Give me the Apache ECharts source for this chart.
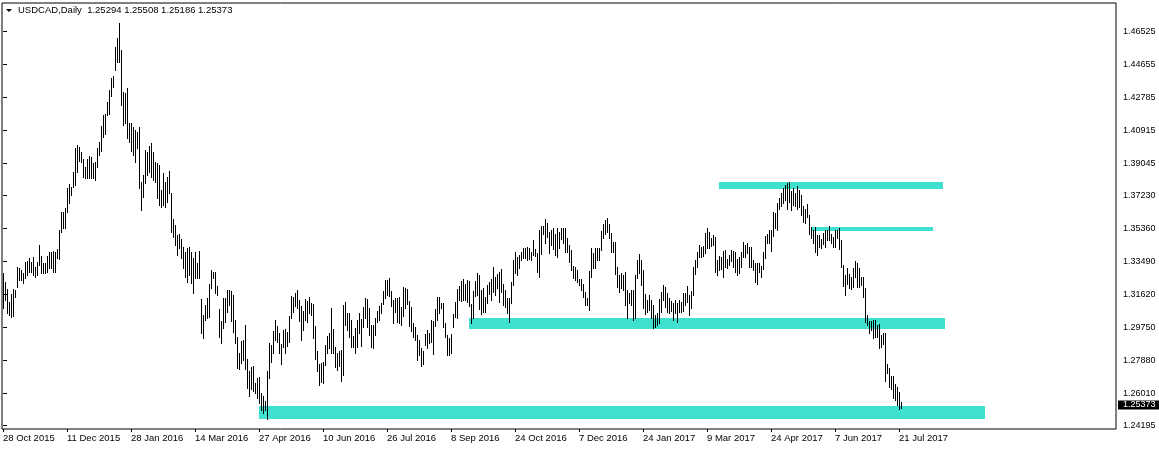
<!DOCTYPE html>
<html><head><meta charset="utf-8">
<script src="https://cdn.jsdelivr.net/npm/echarts@6/dist/echarts.min.js"></script>
<style>html,body{margin:0;padding:0;background:#fff}#c{width:1159px;height:450px}</style>
</head><body><div id="c"></div>
<script>
const symbol = 'USDCAD';
const period = 'Daily';
const lastOHLC = [1.25294, 1.25508, 1.25186, 1.25373];

// daily bars, one per trading day from 28 Oct 2015 (index 0)
const highs = [
1.3281,1.3234,1.3192,1.3120,1.3162,1.3192,1.3185,1.3315,1.3309,1.3300,
1.3281,1.3343,1.3351,1.3370,1.3347,1.3372,1.3319,1.3347,1.3442,1.3381,
1.3338,1.3338,1.3381,1.3400,1.3404,1.3408,1.3404,1.3417,1.3527,1.3627,
1.3627,1.3650,1.3767,1.3786,1.3773,1.3854,1.3994,1.4009,1.3996,1.3972,
1.3930,1.3886,1.3930,1.3945,1.3943,1.3905,1.3915,1.3994,1.4028,1.4117,
1.4180,1.4183,1.4252,1.4320,1.4392,1.4403,1.4568,1.4615,1.4702,1.4549,
1.4312,1.4303,1.4331,1.4132,1.4132,1.4114,1.4095,1.4085,1.4114,1.3801,
1.3839,1.3981,1.3972,1.4006,1.4019,1.3968,1.3915,1.3905,1.3896,1.3754,
1.3849,1.3801,1.3830,1.3862,1.3735,1.3589,1.3555,1.3499,1.3504,1.3476,
1.3432,1.3404,1.3427,1.3432,1.3404,1.3366,1.3400,1.3338,1.3408,1.3135,
1.3045,1.3101,1.3139,1.3219,1.3298,1.3287,1.3291,1.3211,1.3079,1.3010,
1.3143,1.3143,1.3186,1.3186,1.3183,1.3158,1.3016,1.2922,1.2831,1.2899,
1.2903,1.2988,1.2793,1.2729,1.2748,1.2755,1.2661,1.2685,1.2691,1.2600,
1.2585,1.2558,1.2729,1.2888,1.2874,1.2954,1.3016,1.2982,1.2944,1.2880,
1.2960,1.2963,1.2950,1.3039,1.3153,1.3149,1.3168,1.3187,1.3130,1.3096,
1.3069,1.3134,1.3126,1.3149,1.3111,1.3107,1.2982,1.2842,1.2765,1.2770,
1.2780,1.2874,1.2925,1.2944,1.3083,1.2967,1.2861,1.2827,1.2842,1.2846,
1.3101,1.3117,1.3058,1.3058,1.3016,1.2925,1.2969,1.3016,1.3054,1.3022,
1.3088,1.3139,1.3134,1.3083,1.2988,1.2988,1.3026,1.3069,1.3096,1.3111,
1.3183,1.3243,1.3243,1.3253,1.3183,1.3130,1.3139,1.3139,1.3145,1.3092,
1.3202,1.3196,1.3192,1.3126,1.3092,1.2997,1.2979,1.2931,1.2903,1.2855,
1.2842,1.2937,1.2960,1.2944,1.3016,1.3013,1.3077,1.3149,1.3149,1.3111,
1.3115,1.2997,1.2931,1.2912,1.2937,1.3050,1.3120,1.3190,1.3210,1.3238,
1.3249,1.3219,1.3243,1.3238,1.3105,1.3181,1.3238,1.3281,1.3272,1.3186,
1.3200,1.3149,1.3215,1.3230,1.3249,1.3317,1.3262,1.3275,1.3290,1.3306,
1.3219,1.3186,1.3139,1.3139,1.3230,1.3357,1.3400,1.3376,1.3385,1.3404,
1.3427,1.3423,1.3432,1.3427,1.3404,1.3470,1.3419,1.3395,1.3527,1.3552,
1.3552,1.3589,1.3565,1.3518,1.3527,1.3536,1.3502,1.3540,1.3518,1.3536,
1.3536,1.3536,1.3480,1.3442,1.3414,1.3325,1.3319,1.3300,1.3249,1.3249,
1.3219,1.3173,1.3139,1.3294,1.3423,1.3395,1.3427,1.3423,1.3427,1.3521,
1.3559,1.3584,1.3597,1.3559,1.3508,1.3457,1.3461,1.3319,1.3272,1.3281,
1.3272,1.3290,1.3186,1.3168,1.3186,1.3188,1.3272,1.3357,1.3389,1.3357,
1.3300,1.3162,1.3130,1.3158,1.3130,1.3101,1.3045,1.3054,1.3135,1.3177,
1.3215,1.3205,1.3168,1.3143,1.3124,1.3111,1.3130,1.3111,1.3130,1.3120,
1.3168,1.3168,1.3211,1.3160,1.3183,1.3319,1.3357,1.3404,1.3442,1.3429,
1.3436,1.3508,1.3537,1.3518,1.3480,1.3499,1.3489,1.3357,1.3380,1.3372,
1.3410,1.3414,1.3361,1.3385,1.3414,1.3410,1.3404,1.3361,1.3372,1.3404,
1.3461,1.3442,1.3455,1.3432,1.3432,1.3357,1.3342,1.3342,1.3342,1.3323,
1.3404,1.3493,1.3504,1.3527,1.3527,1.3631,1.3625,1.3678,1.3707,1.3739,
1.3764,1.3782,1.3792,1.3801,1.3750,1.3764,1.3735,1.3777,1.3754,1.3726,
1.3663,1.3644,1.3675,1.3612,1.3542,1.3527,1.3542,1.3499,1.3499,1.3474,
1.3508,1.3527,1.3527,1.3550,1.3504,1.3485,1.3527,1.3527,1.3537,1.3470,
1.3328,1.3272,1.3313,1.3277,1.3262,1.3310,1.3353,1.3342,1.3313,1.3262,
1.3262,1.3196,1.3045,1.3012,1.3012,1.3016,1.3016,1.2988,1.2994,1.2931,
1.2944,1.2941,1.2766,1.2742,1.2698,1.2698,1.2653,1.2634,1.2609,1.25508
];
const lows = [
1.3082,1.3130,1.3054,1.3045,1.3035,1.3041,1.3149,1.3205,1.3243,1.3243,
1.3224,1.3253,1.3272,1.3291,1.3291,1.3272,1.3262,1.3272,1.3328,1.3281,
1.3281,1.3281,1.3291,1.3309,1.3309,1.3291,1.3291,1.3366,1.3362,1.3518,
1.3536,1.3536,1.3631,1.3678,1.3726,1.3773,1.3782,1.3858,1.3919,1.3915,
1.3830,1.3820,1.3820,1.3820,1.3820,1.3820,1.3811,1.3886,1.3953,1.3975,
1.4057,1.4070,1.4180,1.4183,1.4286,1.4341,1.4435,1.4482,1.4482,1.4237,
1.4123,1.4132,1.4047,1.4028,1.3975,1.3953,1.3915,1.3991,1.3764,1.3641,
1.3716,1.3792,1.3839,1.3858,1.3830,1.3811,1.3801,1.3707,1.3669,1.3659,
1.3669,1.3659,1.3688,1.3735,1.3518,1.3489,1.3442,1.3385,1.3423,1.3366,
1.3309,1.3262,1.3234,1.3272,1.3224,1.3168,1.3253,1.3253,1.3253,1.2940,
1.2916,1.3016,1.3026,1.3035,1.3196,1.3253,1.3168,1.3158,1.2922,1.2884,
1.2969,1.3007,1.3063,1.3101,1.3013,1.2950,1.2884,1.2742,1.2738,1.2774,
1.2789,1.2736,1.2628,1.2585,1.2623,1.2615,1.2604,1.2572,1.2543,1.2506,
1.2490,1.2506,1.2454,1.2689,1.2780,1.2831,1.2903,1.2893,1.2827,1.2767,
1.2865,1.2831,1.2869,1.2893,1.3026,1.3064,1.3096,1.3083,1.3013,1.2903,
1.2960,1.3016,1.3007,1.3054,1.3045,1.2912,1.2793,1.2729,1.2647,1.2666,
1.2661,1.2761,1.2831,1.2855,1.2827,1.2827,1.2751,1.2732,1.2755,1.2672,
1.2704,1.2988,1.2960,1.2922,1.2861,1.2861,1.2827,1.2861,1.2944,1.2869,
1.2975,1.3026,1.2975,1.2931,1.2861,1.2855,1.2931,1.3007,1.3016,1.3054,
1.3107,1.3139,1.3158,1.3153,1.3096,1.2997,1.3064,1.3007,1.2997,1.2988,
1.3039,1.3083,1.3105,1.2982,1.2956,1.2922,1.2903,1.2789,1.2818,1.2757,
1.2767,1.2874,1.2855,1.2884,1.2893,1.2823,1.2982,1.3016,1.3054,1.3083,
1.2975,1.2922,1.2818,1.2818,1.2831,1.2975,1.3035,1.3026,1.3128,1.3124,
1.3130,1.3130,1.3120,1.3098,1.2997,1.3026,1.3154,1.3158,1.3079,1.3048,
1.3064,1.3064,1.3111,1.3162,1.3130,1.3173,1.3158,1.3200,1.3120,1.3173,
1.3101,1.3092,1.3054,1.3003,1.3111,1.3215,1.3281,1.3272,1.3309,1.3357,
1.3366,1.3370,1.3357,1.3362,1.3357,1.3385,1.3381,1.3290,1.3262,1.3389,
1.3502,1.3451,1.3489,1.3398,1.3442,1.3419,1.3385,1.3376,1.3427,1.3476,
1.3451,1.3404,1.3400,1.3347,1.3300,1.3253,1.3243,1.3234,1.3215,1.3186,
1.3149,1.3101,1.3101,1.3073,1.3262,1.3309,1.3313,1.3357,1.3357,1.3414,
1.3480,1.3502,1.3518,1.3484,1.3400,1.3404,1.3275,1.3205,1.3177,1.3196,
1.3186,1.3101,1.3026,1.3111,1.3101,1.3016,1.3026,1.3253,1.3281,1.3215,
1.3082,1.3048,1.3060,1.3073,1.3026,1.2969,1.2978,1.2988,1.2997,1.3060,
1.3130,1.3092,1.3064,1.3054,1.3067,1.3016,1.3054,1.3003,1.3060,1.3060,
1.3067,1.3101,1.3120,1.3045,1.3082,1.3158,1.3277,1.3319,1.3372,1.3372,
1.3380,1.3395,1.3423,1.3423,1.3436,1.3442,1.3291,1.3272,1.3300,1.3304,
1.3262,1.3315,1.3310,1.3328,1.3353,1.3319,1.3291,1.3272,1.3281,1.3315,
1.3372,1.3376,1.3395,1.3319,1.3315,1.3300,1.3234,1.3221,1.3291,1.3258,
1.3306,1.3366,1.3455,1.3451,1.3410,1.3493,1.3537,1.3527,1.3644,1.3663,
1.3682,1.3697,1.3644,1.3688,1.3641,1.3669,1.3663,1.3644,1.3660,1.3612,
1.3574,1.3569,1.3603,1.3504,1.3480,1.3451,1.3404,1.3385,1.3429,1.3423,
1.3448,1.3429,1.3470,1.3470,1.3455,1.3429,1.3429,1.3480,1.3419,1.3319,
1.3209,1.3158,1.3221,1.3196,1.3190,1.3205,1.3262,1.3205,1.3205,1.3215,
1.3145,1.3007,1.2988,1.2944,1.2959,1.2912,1.2922,1.2922,1.2855,1.2865,
1.2880,1.2672,1.2717,1.2638,1.2623,1.2572,1.2562,1.2534,1.2513,1.25186
];

// date labels on the time axis, every 32 bars
const tickIndex = [0,32,64,96,128,160,192,224,256,288,320,352,384,416,448];
const tickLabels = ['28 Oct 2015','11 Dec 2015','28 Jan 2016','14 Mar 2016','27 Apr 2016','10 Jun 2016','26 Jul 2016','8 Sep 2016','24 Oct 2016','7 Dec 2016','24 Jan 2017','9 Mar 2017','24 Apr 2017','7 Jun 2017','21 Jul 2017'];
// price scale labels
const yTicks = [1.46525,1.44655,1.42785,1.40915,1.39045,1.37230,1.35360,1.33490,1.31620,1.29750,1.27880,1.26010,1.24195];

// drawn rectangle zones (time from/to as bar index, price top/bottom)
const zoneFrom = [358, 404, 233, 128];
const zoneTo   = [470, 465, 471, 491];
const zoneTop  = [1.37995, 1.35441, 1.30276, 1.25282];
const zoneBot  = [1.37598, 1.35214, 1.29652, 1.24562];

const FONT = 'Liberation Sans';
const chart = echarts.init(document.getElementById('c'), null, {renderer: 'canvas'});

const barData = highs.map((h, i) => [i, h, lows[i]]);
const zoneData = zoneFrom.map((f, i) => [f, zoneTo[i], zoneTop[i], zoneBot[i]]);

chart.setOption({
  animation: false,
  backgroundColor: '#fff',
  title: {
    text: symbol + ',' + period + '  ' + lastOHLC.map(v => v.toFixed(5)).join(' '),
    left: 18, top: 5, padding: 0,
    textStyle: {fontSize: 9.5, fontWeight: 'normal', color: '#000', fontFamily: FONT, lineHeight: 11}
  },
  graphic: [{type: 'polygon', shape: {points: [[6, 9], [12, 9], [9, 12]]}, style: {fill: '#000'}}],
  grid: {left: 2, top: 3, width: 1114, height: 426, show: true, borderColor: '#000', borderWidth: 1, backgroundColor: '#fff'},
  xAxis: {
    type: 'value', min: -0.5, max: 556.5,
    splitLine: {show: false}, axisLine: {show: false},
    axisTick: {show: true, customValues: tickIndex, length: 3, lineStyle: {color: '#000'}},
    axisLabel: {
      customValues: tickIndex,
      formatter: v => tickLabels[tickIndex.indexOf(Math.round(v))],
      align: 'left', margin: 4, color: '#000', fontSize: 9.5, fontFamily: FONT
    }
  },
  yAxis: {
    type: 'value', position: 'right', min: 1.23977, max: 1.48154,
    splitLine: {show: false}, axisLine: {show: false},
    axisTick: {show: true, customValues: yTicks, length: 4, lineStyle: {color: '#000'}},
    axisLabel: {customValues: yTicks, formatter: v => v.toFixed(5), margin: 7, color: '#000', fontSize: 9, fontFamily: FONT}
  },
  series: [
    {
      type: 'custom', name: 'zones', z: 1, data: zoneData,
      encode: {x: [0, 1], y: [2, 3]},
      renderItem: (params, api) => {
        const a = api.coord([api.value(0), api.value(2)]);
        const b = api.coord([api.value(1), api.value(3)]);
        const x0 = Math.round(a[0]), y0 = Math.round(a[1]);
        return {type: 'rect', shape: {x: x0, y: y0, width: Math.round(b[0]) - x0, height: Math.round(b[1]) - y0},
                style: {fill: '#40E0D0'}};
      }
    },
    {
      type: 'custom', name: symbol, z: 2, data: barData,
      encode: {x: 0, y: [1, 2]},
      renderItem: (params, api) => {
        const t = api.coord([api.value(0), api.value(1)]);
        const b = api.coord([api.value(0), api.value(2)]);
        const x = Math.round(t[0]) + 0.5;
        return {type: 'line', shape: {x1: x, y1: Math.round(t[1]), x2: x, y2: Math.round(b[1]) + 1},
                style: {stroke: '#000', lineWidth: 1}};
      }
    },
    {
      type: 'custom', name: 'last', z: 5, clip: false, data: [[highs.length - 1, lastOHLC[3]]],
      encode: {x: 0, y: 1},
      renderItem: (params, api) => {
        const p = api.coord([api.value(0), api.value(1)]);
        const cs = params.coordSys;
        const xr = cs.x + cs.width;
        const yc = Math.round(p[1]) + 1;
        return {type: 'group', children: [
          {type: 'rect', shape: {x: xr + 2, y: yc - 4.5, width: 41, height: 9}, style: {fill: '#000'}},
          {type: 'text', x: xr + 7, y: yc, style: {text: api.value(1).toFixed(5), fill: '#fff', font: '9px ' + FONT, verticalAlign: 'middle', align: 'left'}}
        ]};
      }
    }
  ]
});
</script>
</body></html>
